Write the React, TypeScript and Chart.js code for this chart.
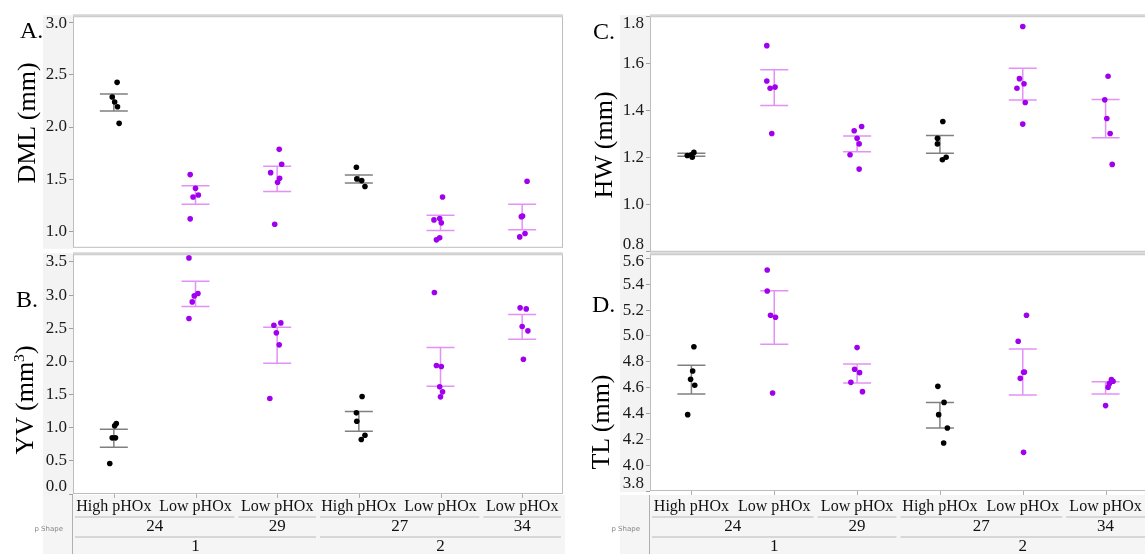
import React, { useEffect, useRef } from 'react';
import { Chart, registerables } from 'chart.js';

Chart.register(...registerables);

const SERIF = '"Liberation Serif"';
const PAGE_W = 1145;
const PAGE_H = 554;

// Category axis: treatment per column, nested inside parent and pair groups
const treatments = ['High pHOx', 'Low pHOx', 'Low pHOx', 'High pHOx', 'Low pHOx', 'Low pHOx'];
const parentLabels = ['24', '29', '27', '34'];
const parentSpans = [2, 1, 2, 1];
const pairLabels = ['1', '2'];
const pairSpans = [3, 3];

// A. DML (mm)
const dmlValues = [
  [2.426, 2.286, 2.238, 2.193, 2.035],
  [1.546, 1.416, 1.333, 1.352, 1.124],
  [1.787, 1.645, 1.565, 1.511, 1.473, 1.073],
  [1.616, 1.505, 1.489, 1.432],
  [1.333, 1.114, 1.127, 1.086, 0.924, 0.943],
  [1.483, 1.152, 1.145, 0.952, 0.984],
];
const dmlJitter = [
  [0.04, -0.02, 0.01, 0.045, 0.065],
  [-0.065, 0, -0.03, 0.035, -0.065],
  [0.025, 0.055, -0.08, 0.03, 0.005, -0.03],
  [-0.03, -0.025, 0.035, 0.075],
  [0.025, -0.08, -0.01, 0.01, -0.05, -0.01],
  [0.06, 0.005, -0.01, -0.03, 0.035],
];
const dmlUpper = [2.314, 1.441, 1.625, 1.543, 1.159, 1.264];
const dmlLower = [2.152, 1.264, 1.384, 1.467, 1.013, 1.019];
const dmlTicks = [1.0, 1.5, 2.0, 2.5, 3.0];

// B. YV (mm³)
const yvValues = [
  [1.063, 1.028, 0.847, 0.847, 0.46],
  [3.56, 3.023, 2.987, 2.897, 2.646],
  [2.545, 2.58, 2.43, 2.249, 1.44],
  [1.47, 1.224, 1.098, 0.887, 0.822],
  [3.038, 1.937, 1.922, 1.616, 1.54, 1.465],
  [2.807, 2.791, 2.525, 2.46, 2.033],
];
const yvJitter = [
  [0.03, 0.01, -0.02, 0.02, -0.05],
  [-0.08, 0.03, -0.015, -0.04, -0.08],
  [-0.04, 0.045, -0.01, 0.025, -0.09],
  [0.04, -0.03, -0.025, 0.075, 0.03],
  [-0.075, -0.05, 0.01, -0.01, 0.025, 0],
  [-0.025, 0.05, 0, 0.07, 0.015],
];
const yvUpper = [0.977, 3.209, 2.515, 1.244, 2.209, 2.706];
const yvLower = [0.706, 2.827, 1.972, 0.947, 1.626, 2.334];
const yvTicks = [0.0, 0.5, 1.0, 1.5, 2.0, 2.5, 3.0, 3.5];

// C. HW (mm)
const hwValues = [
  [1.209, 1.212, 1.222, 1.201],
  [1.675, 1.525, 1.494, 1.499, 1.302],
  [1.314, 1.332, 1.282, 1.258, 1.212, 1.151],
  [1.353, 1.282, 1.258, 1.201, 1.191],
  [1.756, 1.535, 1.513, 1.494, 1.434, 1.342],
  [1.545, 1.445, 1.366, 1.302, 1.171],
];
const hwJitter = [
  [-0.05, 0, 0.03, 0.01],
  [-0.09, -0.09, -0.05, 0.01, -0.03],
  [-0.035, 0.055, 0, 0.025, -0.085, 0.025],
  [0.035, -0.03, -0.03, 0.075, 0.03],
  [0, -0.04, 0.015, -0.07, 0.03, 0],
  [0.03, -0.01, 0.015, 0.055, 0.08],
];
const hwUpper = [1.218, 1.573, 1.291, 1.294, 1.579, 1.446];
const hwLower = [1.206, 1.421, 1.225, 1.218, 1.444, 1.284];
const hwTicks = [0.8, 1.0, 1.2, 1.4, 1.6, 1.8];

// D. TL (mm)
const tlValues = [
  [4.917, 4.729, 4.665, 4.618, 4.391],
  [5.511, 5.348, 5.16, 5.145, 4.559],
  [4.91, 4.742, 4.716, 4.641, 4.569],
  [4.61, 4.486, 4.391, 4.288, 4.172],
  [5.16, 4.959, 4.721, 4.719, 4.672, 4.099],
  [4.662, 4.649, 4.631, 4.603, 4.461],
];
const tlJitter = [
  [0.03, 0.015, -0.01, 0.04, -0.045],
  [-0.085, -0.085, -0.045, 0.015, -0.02],
  [0, -0.03, 0.03, -0.075, 0.065],
  [-0.025, 0.05, -0.015, 0.09, 0.045],
  [0.045, -0.055, 0.02, 0.01, -0.03, 0.01],
  [0.07, 0.09, 0.045, 0.03, 0],
];
const tlUpper = [4.773, 5.351, 4.783, 4.486, 4.899, 4.646];
const tlLower = [4.551, 4.935, 4.636, 4.288, 4.543, 4.551];
const tlTicks = [3.8, 4.0, 4.2, 4.4, 4.6, 4.8, 5.0, 5.2, 5.4, 5.6];

const HIGH_POINT = '#000000';
const LOW_POINT = '#a000ee';
const HIGH_BAR = '#808080';
const LOW_BAR = '#e391f7';
const BAND = '#f3f3f3';
const FRAME = '#bdbdbd';

const AXIS_W = 30;
const PAD_L = 14;
const PAD_T = 12;

// strip rows (page coordinates)
const STRIP_TOP = 495;
const ROW1_Y = 507;
const LINE1_Y = 517;
const ROW2_Y = 527;
const LINE2_Y = 537;
const ROW3_Y = 547;

type PanelSpec = {
  values: number[][];
  jitter: number[][];
  upper: number[];
  lower: number[];
  ticks: number[];
  min: number;
  max: number;
  left: number;
  right: number;
  top: number;
  bottom: number;
  strip: boolean;
};

function Panel({ spec }: { spec: PanelSpec }) {
  const ref = useRef<HTMLCanvasElement>(null);
  const padB = spec.strip ? PAGE_H - spec.bottom : 12;
  const canvasLeft = spec.left - AXIS_W - PAD_L;
  const canvasTop = spec.top - PAD_T;
  const width = spec.right - canvasLeft + 1;
  const height = spec.bottom + padB - canvasTop;

  useEffect(() => {
    const high: { x: number; y: number }[] = [];
    const low: { x: number; y: number }[] = [];
    spec.values.forEach((vals, i) => {
      vals.forEach((v, j) => {
        const pt = { x: i + spec.jitter[i][j], y: v };
        if (treatments[i] === 'High pHOx') high.push(pt);
        else low.push(pt);
      });
    });

    const framePlugin = {
      id: 'panelFrame',
      beforeDraw(chart: any) {
        const { ctx, chartArea: a } = chart;
        // keep the end tick labels inside the plot's vertical extent
        const items = chart.scales.y.getLabelItems();
        items.forEach((it: any) => {
          const t = it.options.translation;
          t[1] = Math.min(Math.max(t[1], a.top + 7), a.bottom - 7);
        });
        ctx.save();
        ctx.fillStyle = BAND;
        ctx.fillRect(a.left - AXIS_W, a.top - 1, AXIS_W, a.bottom - a.top + 2);
        if (spec.strip) {
          ctx.fillStyle = '#f5f5f5';
          ctx.fillRect(a.left - AXIS_W, STRIP_TOP - canvasTop, a.right - a.left + AXIS_W + 2, chart.height);
        }
        ctx.restore();
      },
      beforeDatasetsDraw(chart: any) {
        const { ctx, scales } = chart;
        const x = scales.x;
        const y = scales.y;
        ctx.save();
        ctx.lineWidth = 1.5;
        spec.upper.forEach((u, i) => {
          const cx = x.getPixelForValue(i);
          const yu = y.getPixelForValue(u);
          const yl = y.getPixelForValue(spec.lower[i]);
          ctx.strokeStyle = treatments[i] === 'High pHOx' ? HIGH_BAR : LOW_BAR;
          ctx.beginPath();
          ctx.moveTo(cx - 14, yu);
          ctx.lineTo(cx + 14, yu);
          ctx.moveTo(cx - 14, yl);
          ctx.lineTo(cx + 14, yl);
          ctx.moveTo(cx, yu);
          ctx.lineTo(cx, yl);
          ctx.stroke();
        });
        ctx.restore();
      },
      afterDraw(chart: any) {
        const { ctx, chartArea: a, scales } = chart;
        const x = scales.x;
        ctx.save();
        // plot frame
        ctx.strokeStyle = FRAME;
        ctx.lineWidth = 1;
        ctx.strokeRect(a.left + 0.5, a.top + 0.5, a.right - a.left - 1, a.bottom - a.top - 1);
        ctx.strokeStyle = '#d6d6d6';
        ctx.lineWidth = 2;
        ctx.beginPath();
        ctx.moveTo(a.left, a.top - 1);
        ctx.lineTo(a.right, a.top - 1);
        ctx.stroke();

        if (spec.strip) {
          const yOf = (py: number) => py - canvasTop;
          // ticks at category centres
          ctx.strokeStyle = '#b0b0b0';
          ctx.lineWidth = 1;
          ctx.beginPath();
          treatments.forEach((_, i) => {
            const cx = Math.round(x.getPixelForValue(i)) + 0.5;
            ctx.moveTo(cx, a.bottom);
            ctx.lineTo(cx, a.bottom + 4);
          });
          ctx.moveTo(a.left - 0.5, yOf(STRIP_TOP));
          ctx.lineTo(a.left - 0.5, chart.height);
          ctx.stroke();

          ctx.fillStyle = '#111';
          ctx.textAlign = 'center';
          ctx.textBaseline = 'middle';
          ctx.font = `16px ${SERIF}`;
          treatments.forEach((t, i) => {
            ctx.fillText(t, x.getPixelForValue(i), yOf(ROW1_Y));
          });

          const drawGroups = (labels: string[], spans: number[], textY: number, lineY: number) => {
            let start = 0;
            labels.forEach((lab, g) => {
              const end = start + spans[g] - 1;
              const l = x.getPixelForValue(start - 0.5) + 2;
              const r = x.getPixelForValue(end + 0.5) - 2;
              ctx.strokeStyle = '#cccccc';
              ctx.lineWidth = 1.5;
              ctx.beginPath();
              ctx.moveTo(l, yOf(lineY));
              ctx.lineTo(r, yOf(lineY));
              ctx.stroke();
              ctx.fillStyle = '#111';
              ctx.font = `17px ${SERIF}`;
              ctx.fillText(lab, (x.getPixelForValue(start) + x.getPixelForValue(end)) / 2, yOf(textY));
              start = end + 1;
            });
          };
          drawGroups(parentLabels, parentSpans, ROW2_Y, LINE1_Y);
          drawGroups(pairLabels, pairSpans, ROW3_Y, LINE2_Y);

          ctx.fillStyle = '#888';
          ctx.font = '7px "DejaVu Sans"';
          ctx.textAlign = 'right';
          ctx.fillText('p Shape', a.left - 10, yOf(529));
        }
        ctx.restore();
      },
    };

    const chart = new Chart(ref.current as HTMLCanvasElement, {
      type: 'scatter',
      data: {
        datasets: [
          {
            data: high,
            backgroundColor: HIGH_POINT,
            borderColor: HIGH_POINT,
            pointRadius: 2.8,
            pointBorderWidth: 0,
          },
          {
            data: low,
            backgroundColor: LOW_POINT,
            borderColor: LOW_POINT,
            pointRadius: 2.8,
            pointBorderWidth: 0,
          },
        ],
      },
      options: {
        animation: false,
        responsive: false,
        maintainAspectRatio: false,
        events: [],
        layout: { padding: { top: PAD_T, bottom: padB, left: PAD_L, right: 1 } },
        plugins: { legend: { display: false }, tooltip: { enabled: false } },
        scales: {
          x: { type: 'linear', min: -0.5, max: 5.5, display: false },
          y: {
            type: 'linear',
            min: spec.min,
            max: spec.max,
            afterFit: (s: any) => {
              s.width = AXIS_W;
            },
            afterBuildTicks: (s: any) => {
              s.ticks = spec.ticks.map((v) => ({ value: v }));
            },
            ticks: {
              callback: (v: any) => Number(v).toFixed(1),
              font: { family: SERIF, size: 17 },
              color: '#1a1a1a',
              padding: 2,
            },
            grid: { drawOnChartArea: false, tickLength: 4, color: '#a0a0a0' },
            border: { display: false },
          },
        },
      } as any,
      plugins: [framePlugin],
    });

    return () => {
      chart.destroy();
    };
  }, []);

  return (
    <canvas
      ref={ref}
      width={width}
      height={height}
      style={{ position: 'absolute', left: canvasLeft, top: canvasTop, width, height }}
    />
  );
}

const panels: PanelSpec[] = [
  { values: dmlValues, jitter: dmlJitter, upper: dmlUpper, lower: dmlLower, ticks: dmlTicks, min: 0.848, max: 3.057, left: 73, right: 566, top: 16, bottom: 248, strip: false },
  { values: yvValues, jitter: yvJitter, upper: yvUpper, lower: yvLower, ticks: yvTicks, min: 0, max: 3.616, left: 73, right: 566, top: 254, bottom: 494, strip: true },
  { values: hwValues, jitter: hwJitter, upper: hwUpper, lower: hwLower, ticks: hwTicks, min: 0.8, max: 1.8, left: 650, right: 1150, top: 16, bottom: 252, strip: false },
  { values: tlValues, jitter: tlJitter, upper: tlUpper, lower: tlLower, ticks: tlTicks, min: 3.8, max: 5.633, left: 650, right: 1150, top: 254, bottom: 491, strip: true },
];

const letterStyle: React.CSSProperties = {
  position: 'absolute',
  fontFamily: SERIF,
  fontSize: 24,
  lineHeight: '24px',
  color: '#000',
};

const titleStyle = (cx: number, cy: number): React.CSSProperties => ({
  position: 'absolute',
  left: cx,
  top: cy,
  transform: 'translate(-50%, -50%) rotate(-90deg)',
  fontFamily: SERIF,
  fontSize: 26,
  lineHeight: '26px',
  whiteSpace: 'nowrap',
  color: '#000',
});

export default function App() {
  return (
    <div
      style={{
        position: 'fixed',
        left: 0,
        top: 0,
        width: PAGE_W,
        height: PAGE_H,
        overflow: 'hidden',
        background: '#fff',
      }}
    >
      {panels.map((p, i) => (
        <Panel key={i} spec={p} />
      ))}
      <div style={{ ...letterStyle, left: 20, top: 18 }}>A.</div>
      <div style={{ ...letterStyle, left: 16, top: 287 }}>B.</div>
      <div style={{ ...letterStyle, left: 593, top: 19 }}>C.</div>
      <div style={{ ...letterStyle, left: 592, top: 292 }}>D.</div>
      <div style={titleStyle(27, 123)}>DML (mm)</div>
      <div style={titleStyle(25, 400)}>
        YV (mm<sup style={{ fontSize: '0.6em', verticalAlign: 'top', lineHeight: '14px' }}>3</sup>)
      </div>
      <div style={titleStyle(604, 145)}>HW (mm)</div>
      <div style={titleStyle(601, 422)}>TL (mm)</div>
    </div>
  );
}
